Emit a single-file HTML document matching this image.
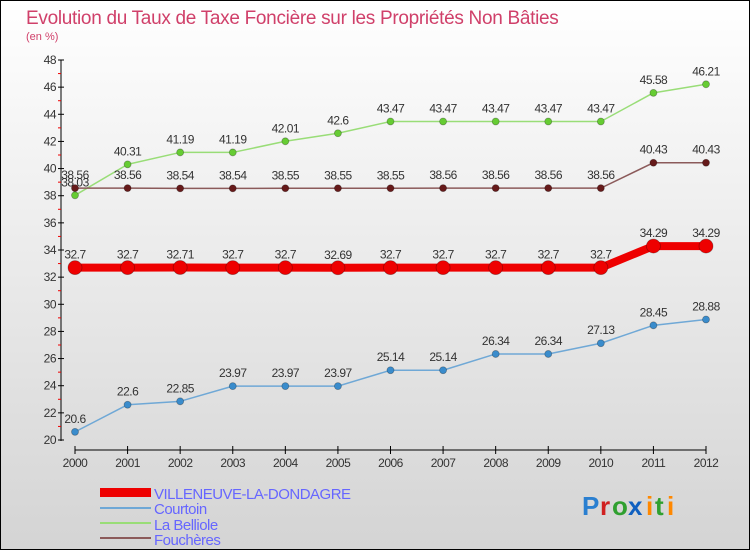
<!DOCTYPE html>
<html><head><meta charset="utf-8"><style>
body{margin:0}
#c{width:750px;height:550px;position:relative;overflow:hidden;font-family:"Liberation Sans",sans-serif}
text{font-family:"Liberation Sans",sans-serif}
</style></head><body>
<div id="c">
<svg id="s" width="750" height="550" xmlns="http://www.w3.org/2000/svg">
<defs><linearGradient id="bg" x1="0" y1="0" x2="0" y2="1"><stop offset="0" stop-color="#ffffff"/><stop offset="1" stop-color="#d4d4d4"/></linearGradient></defs>
<rect x="0.5" y="0.5" width="749" height="549" fill="url(#bg)" stroke="#000"/>
<text x="26" y="24" font-size="19" fill="#d0406a" letter-spacing="-0.3">Evolution du Taux de Taxe Foncière sur les Propriétés Non Bâties</text>
<text x="26" y="40" font-size="11" fill="#d0406a">(en %)</text>
<g id="axes"></g><g id="series"></g>
<g>
<rect x="100" y="488" width="51" height="9" fill="#e00"/>
<text x="154" y="499" font-size="15" fill="#6666ff" letter-spacing="-0.5">VILLENEUVE-LA-DONDAGRE</text>
<line x1="100" y1="508" x2="151" y2="508" stroke="#6fa8d6" stroke-width="2"/>
<text x="154" y="514" font-size="15" fill="#6666ff" letter-spacing="-0.5">Courtoin</text>
<line x1="100" y1="523" x2="151" y2="523" stroke="#99dd77" stroke-width="2"/>
<text x="154" y="530" font-size="15" fill="#6666ff" letter-spacing="-0.5">La Belliole</text>
<line x1="100" y1="538" x2="151" y2="538" stroke="#8b5a5a" stroke-width="2"/>
<text x="154" y="545" font-size="15" fill="#6666ff" letter-spacing="-0.5">Fouchères</text>
</g>
<g font-size="26" font-weight="bold">
<text x="582" y="515" fill="#2a7fd0">P</text><text x="600" y="515" fill="#d02020">r</text><text x="612" y="515" fill="#30a030">o</text><text x="628" y="515" fill="#1060c0">x</text><text x="646" y="515" fill="#ff8800">i</text><text x="655" y="515" fill="#30a030">t</text><text x="667" y="515" fill="#ff8800">i</text>
</g>
</svg>
</div>
<script>
const years=[2000,2001,2002,2003,2004,2005,2006,2007,2008,2009,2010,2011,2012];
const yTicks=[20,22,24,26,28,30,32,34,36,38,40,42,44,46,48];
const villeneuve=[32.7,32.7,32.71,32.7,32.7,32.69,32.7,32.7,32.7,32.7,32.7,34.29,34.29];
const courtoin=[20.6,22.6,22.85,23.97,23.97,23.97,25.14,25.14,26.34,26.34,27.13,28.45,28.88];
const belliole=[38.03,40.31,41.19,41.19,42.01,42.6,43.47,43.47,43.47,43.47,43.47,45.58,46.21];
const foucheres=[38.56,38.56,38.54,38.54,38.55,38.55,38.55,38.56,38.56,38.56,38.56,40.43,40.43];
const NS="http://www.w3.org/2000/svg";
function X(i){return 75+i*(706-75)/(years.length-1);}
function Y(v){return 60+(48-v)*(440-60)/(48-20);}
function mk(t,a,p){const e=document.createElementNS(NS,t);for(const k in a)e.setAttribute(k,a[k]);p.appendChild(e);return e;}
const ax=document.getElementById('axes');
let yl=mk('line',{x1:61,y1:60,x2:61,y2:441,stroke:'#000'},ax);


let xl=mk('line',{x1:75,y1:450,x2:706,y2:450,stroke:'#000'},ax);


yTicks.forEach(v=>{const y=Y(v);mk('line',{x1:58,y1:y,x2:64,y2:y,stroke:'#000'},ax);
 if(v<48)mk('line',{x1:58,y1:Y(v+1),x2:61,y2:Y(v+1),stroke:'#e00'},ax);
 const t=mk('text',{x:56,y:y+4,'font-size':12,fill:'#333','text-anchor':'end','letter-spacing':'-0.5'},ax);t.textContent=v;
 
 });
years.forEach((yr,i)=>{mk('line',{x1:X(i),y1:446,x2:X(i),y2:454,stroke:'#000'},ax);
 const t=mk('text',{x:X(i),y:467,'font-size':12,fill:'#333','text-anchor':'middle','letter-spacing':'-0.5'},ax);t.textContent=yr;
 
 });
const sg=document.getElementById('series');
function draw(vals,name,col,dot,w,r,lab){const g=mk('g',{},sg);
 
 
 mk('polyline',{points:vals.map((v,i)=>X(i)+','+Y(v)).join(' '),fill:'none',stroke:col,'stroke-width':w,'stroke-linejoin':'round'},g);
 vals.forEach((v,i)=>{const c=mk('circle',{cx:X(i),cy:Y(v),r:r,fill:dot,stroke:'rgba(0,0,0,0.3)','stroke-width':0.8},g);
  
  
  const t=mk('text',{x:X(i),y:Y(v)-9,'font-size':12,fill:'#333','text-anchor':'middle','letter-spacing':'-0.5'},g);t.textContent=lab(v);
  
  });}
const f=v=>String(v);
draw(courtoin,'courtoin','#6fa8d6','#3a8ccc',1.5,3.5,f);
draw(belliole,'la-belliole','#99dd77','#66cc33',1.5,3.5,f);
draw(foucheres,'foucheres','#8b5a5a','#661a1a',1.5,3.5,f);
draw(villeneuve,'villeneuve','#ee0000','#ee0000',8,7,f);
</script>
</body></html>
